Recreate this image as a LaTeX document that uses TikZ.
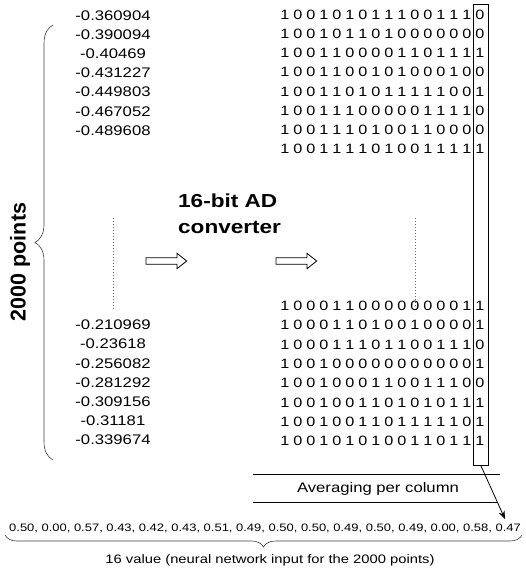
\documentclass[tikz,border=0pt]{standalone}
\usepackage{fontspec}
\setmainfont{Liberation Sans}[FakeStretch=1.2]
\newfontfamily\rotsans{Liberation Sans}
\usetikzlibrary{decorations.pathreplacing,arrows.meta}
\tikzset{
  decval/.style={font=\fontsize{13.9}{16}\selectfont, inner sep=0pt},
  bitval/.style={font=\fontsize{13.5}{15}\selectfont, inner sep=0pt},
  titletext/.style={font=\bfseries\fontsize{18.8}{26}\selectfont, align=left, inner sep=0pt},
  bracestyle/.style={decorate, draw=black!75, line width=0.6pt},
  dotline/.style={draw=black!60, line width=0.8pt, dash pattern=on 0.8pt off 2.2pt},
  hollow/.style={draw=black, line width=0.8pt, fill=white, line join=miter},
}
\begin{document}
\begin{tikzpicture}[x=1pt, y=-1pt]
\useasboundingbox (0,0) rectangle (526,571);
% sampled values
\foreach \v [count=\i] in {-0.360904,-0.390094,-0.40469,-0.431227,-0.449803,-0.467052,-0.489608}
  \node[decval] (dtop\i) at (113,{15.5+19.15*(\i-1)}) {\v};
\foreach \v [count=\i] in {-0.210969,-0.23618,-0.256082,-0.281292,-0.309156,-0.31181,-0.339674}
  \node[decval] (dbot\i) at (113,{325+19.2*(\i-1)}) {\v};
% converted words, one digit per cell
\foreach \bits [count=\r] in {
  {1,0,0,1,0,1,0,1,1,1,0,0,1,1,1,0},
  {1,0,0,1,0,1,1,0,1,0,0,0,0,0,0,0},
  {1,0,0,1,1,0,0,0,0,1,1,0,1,1,1,1},
  {1,0,0,1,1,0,0,1,0,1,0,0,0,1,0,0},
  {1,0,0,1,1,0,1,0,1,1,1,1,1,0,0,1},
  {1,0,0,1,1,1,0,0,0,0,0,1,1,1,1,0},
  {1,0,0,1,1,1,0,1,0,0,1,1,0,0,0,0},
  {1,0,0,1,1,1,1,0,1,0,0,1,1,1,1,1}}
  \foreach \b [count=\c] in \bits
    \node[bitval] (btop\r-\c) at ({285+13*(\c-1)},{15+19.1*(\r-1)}) {\b};
\foreach \bits [count=\r] in {
  {1,0,0,0,1,1,0,0,0,0,0,0,0,0,1,1},
  {1,0,0,0,1,1,0,1,0,0,1,0,0,0,0,1},
  {1,0,0,0,1,1,1,0,1,1,0,0,1,1,1,0},
  {1,0,0,1,0,0,0,0,0,0,0,0,0,0,0,1},
  {1,0,0,1,0,0,0,1,1,0,0,1,1,1,0,0},
  {1,0,0,1,0,0,1,1,0,1,0,1,0,1,1,1},
  {1,0,0,1,0,0,1,1,0,1,1,1,1,1,0,1},
  {1,0,0,1,0,1,0,1,0,0,1,1,0,1,1,1}}
  \foreach \b [count=\c] in \bits
    \node[bitval] (bbot\r-\c) at ({285+13*(\c-1)},{306+19.3*(\r-1)}) {\b};
% omitted rows
\draw[dotline] (113,218) -- (113,310);
\draw[dotline] (415,218) -- (415,308);
% braces
\draw[bracestyle, decoration={brace, amplitude=18pt}] (53,460) -- (53,25);
\node[font=\rotsans\bfseries\fontsize{21.5}{24}\selectfont, rotate=90, inner sep=0pt] (npts) at (20,262) {2000 points};
\draw[bracestyle, decoration={brace, amplitude=12pt}] (522,535) -- (5,535);
% converter
\node[titletext, anchor=north west] (adc) at (178,194) {16-bit AD\\converter};
\foreach \ax [count=\k] in {146,276}
  \draw[hollow] (\ax,257.7) -- ++(31,0) -- ++(0,-4.4) -- ++(9.7,7.7) -- ++(-9.7,7.7) -- ++(0,-4.4) -- ++(-31,0) -- cycle;
% last column
\node[draw=black, line width=0.9pt, minimum width=15.5pt, minimum height=460.5pt, inner sep=0pt] (lastcol) at (480.75,234.75) {};
\draw (253,474) -- (500,474);
\draw (253,502) -- (497,502);
\node[decval] (avg) at (378,489) {Averaging per column};
\coordinate (avgtip) at (505,519);
\draw[line width=0.8pt, -{Stealth[length=8pt, width=6pt]}] (lastcol.south) -- (avgtip);
% network input
\node[font=\fontsize{10.8}{13}\selectfont, inner sep=0pt] (inputs) at (265,528) {0.50, 0.00, 0.57, 0.43, 0.42, 0.43, 0.51, 0.49, 0.50, 0.50, 0.49, 0.50, 0.49, 0.00, 0.58, 0.47};
\node[font=\fontsize{12.3}{15}\selectfont, inner sep=0pt] (caption) at (270,560) {16 value (neural network input for the 2000 points)};
\end{tikzpicture}
\end{document}
